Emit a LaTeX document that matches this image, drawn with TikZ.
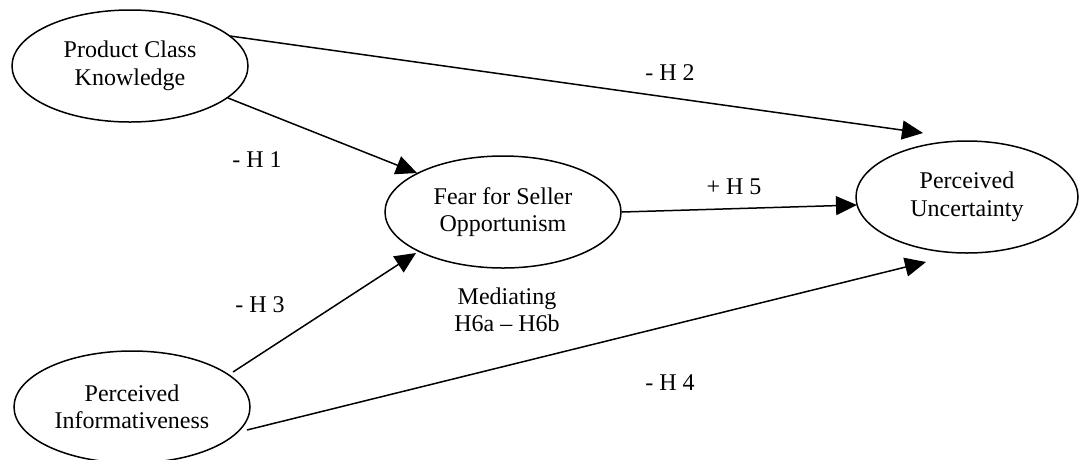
\documentclass[tikz,border=0pt]{standalone}
\usepackage{fontspec}
\setmainfont{Liberation Serif}
\usetikzlibrary{shapes.geometric,arrows.meta}
\begin{document}
\begin{tikzpicture}[x=1pt,y=-1pt,
  construct/.style={ellipse,draw,line width=1.5pt,minimum width=236pt,minimum height=112pt,inner sep=0pt,align=center,font=\fontsize{24}{27.5}\selectfont},
  lbl/.style={align=center,font=\fontsize{24}{27.5}\selectfont,inner sep=0pt},
  path/.style={line width=1.5pt,-{Triangle[length=21pt,width=19pt]}}]
\useasboundingbox (0,0) rectangle (1082,459);
\node[construct] (pck) at (130,66) {Product Class\\Knowledge};
\node[construct] (fso) at (503,212) {Fear for Seller\\Opportunism};
\node[construct,minimum width=222pt] (pu) at (967,197) {Perceived\\Uncertainty};
\node[construct] (pi) at (132,407) {Perceived\\Informativeness};
\coordinate (a1) at (230,36);
\coordinate (b1) at (923,133);
\coordinate (a2) at (228,98);
\coordinate (b2) at (417,173);
\coordinate (a3) at (622,212);
\coordinate (b3) at (857,205);
\coordinate (a4) at (233,372);
\coordinate (b4) at (416,253);
\coordinate (a5) at (247,430);
\coordinate (b5) at (926,262);
\draw[path] (a1) -- (b1);
\draw[path] (a2) -- (b2);
\draw[path] (a3) -- (b3);
\draw[path] (a4) -- (b4);
\draw[path] (a5) -- (b5);
\node[lbl] (h2) at (670,73) {- H 2};
\node[lbl] (h1) at (257,160) {- H 1};
\node[lbl] (h5) at (734,187) {+ H 5};
\node[lbl] (h3) at (260,305) {- H 3};
\node[lbl] (h6) at (507,310) {Mediating\\H6a – H6b};
\node[lbl] (h4) at (670,383) {- H 4};
\end{tikzpicture}
\end{document}
